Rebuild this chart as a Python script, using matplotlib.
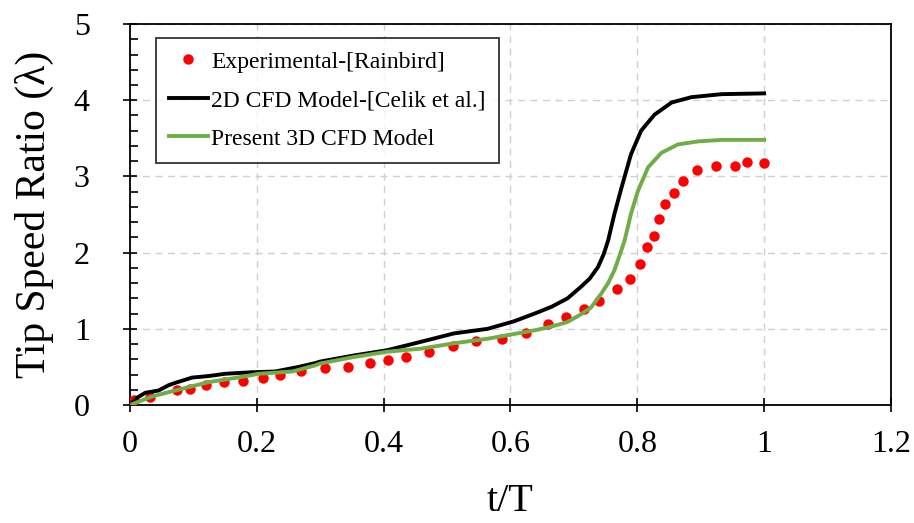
import matplotlib.pyplot as plt
from matplotlib.ticker import MultipleLocator

# Experimental-[Rainbird]
exp_t = [0.007, 0.031, 0.074, 0.094, 0.120, 0.149, 0.178, 0.210, 0.236, 0.270,
         0.308, 0.344, 0.378, 0.407, 0.436, 0.472, 0.510, 0.546, 0.586, 0.625,
         0.659, 0.687, 0.716, 0.740, 0.768, 0.788, 0.804, 0.815, 0.827, 0.834,
         0.843, 0.858, 0.872, 0.894, 0.924, 0.954, 0.973, 1.0]
exp_l = [0.06, 0.11, 0.20, 0.21, 0.26, 0.30, 0.31, 0.36, 0.40, 0.44,
         0.48, 0.50, 0.545, 0.59, 0.63, 0.70, 0.77, 0.84, 0.87, 0.945,
         1.06, 1.16, 1.26, 1.37, 1.52, 1.66, 1.85, 2.07, 2.22, 2.44,
         2.64, 2.78, 2.94, 3.09, 3.14, 3.14, 3.19, 3.18]

# 2D CFD Model-[Celik et al.]
cfd2_t = [0.0, 0.012, 0.024, 0.045, 0.061, 0.071, 0.098, 0.124, 0.150, 0.192,
          0.229, 0.266, 0.292, 0.300, 0.353, 0.406, 0.459, 0.511, 0.564, 0.606,
          0.638, 0.665, 0.690, 0.711, 0.725, 0.738, 0.747, 0.754, 0.764, 0.775,
          0.790, 0.806, 0.827, 0.854, 0.885, 0.933, 1.0]
cfd2_l = [0.0, 0.10, 0.16, 0.19, 0.26, 0.29, 0.36, 0.38, 0.41, 0.43,
          0.44, 0.50, 0.55, 0.57, 0.65, 0.72, 0.83, 0.94, 1.00, 1.10,
          1.20, 1.29, 1.40, 1.55, 1.66, 1.81, 1.98, 2.16, 2.51, 2.85,
          3.29, 3.60, 3.81, 3.97, 4.04, 4.08, 4.09]

# Present 3D CFD Model
cfd3_t = [0.0, 0.034, 0.071, 0.124, 0.177, 0.203, 0.256, 0.292, 0.300, 0.353,
          0.406, 0.459, 0.511, 0.564, 0.611, 0.638, 0.665, 0.690, 0.711, 0.727,
          0.743, 0.754, 0.764, 0.772, 0.780, 0.790, 0.801, 0.817, 0.838, 0.864,
          0.896, 0.933, 1.0]
cfd3_l = [0.0, 0.11, 0.19, 0.30, 0.37, 0.41, 0.44, 0.52, 0.545, 0.63,
          0.70, 0.74, 0.81, 0.87, 0.94, 0.98, 1.03, 1.09, 1.19, 1.28,
          1.46, 1.60, 1.77, 1.96, 2.16, 2.51, 2.81, 3.12, 3.31, 3.42,
          3.46, 3.48, 3.48]

plt.rcParams['font.family'] = ['Liberation Serif', 'DejaVu Serif']

fig = plt.figure(figsize=(9.14, 5.23), dpi=100)
ax = fig.add_axes([0.1422, 0.2256, 0.8326, 0.7284])

ax.plot(exp_t, exp_l, 'o', color='#ff0000', markersize=7.5, markeredgewidth=0,
        label='Experimental-[Rainbird]', zorder=3)
ax.plot(cfd2_t, cfd2_l, color='black', linewidth=2.8,
        label='2D CFD Model-[Celik et al.]', zorder=4)
ax.plot(cfd3_t, cfd3_l, color='#70ad47', linewidth=2.8,
        label='Present 3D CFD Model', zorder=5)

ax.set_xlim(0, 1.2)
ax.set_ylim(0, 5)
ax.yaxis.set_major_locator(MultipleLocator(1))
ax.yaxis.set_minor_locator(MultipleLocator(0.2))
ax.set_xticks([0, 0.2, 0.4, 0.6, 0.8, 1.0, 1.2])
ax.set_xticklabels(['0', '0.2', '0.4', '0.6', '0.8', '1', '1.2'])

ax.tick_params(axis='both', which='major', direction='inout', length=10,
               width=1.2, labelsize=23)
ax.tick_params(axis='x', which='major', pad=13)
ax.tick_params(axis='y', which='major', pad=24)
ax.tick_params(axis='y', which='minor', direction='in', length=6, width=1.2)
ax.tick_params(top=False, right=False, which='both')

for s in ax.spines.values():
    s.set_linewidth(1.3)

ax.grid(True, which='major', linestyle=(0, (5, 4)), color='#d0d0d0', linewidth=1)
ax.set_axisbelow(True)

ax.set_xlabel('t/T', fontsize=29, labelpad=17)
ax.set_ylabel('Tip Speed Ratio (λ)', fontsize=30, labelpad=14)

leg = ax.legend(loc='upper left', bbox_to_anchor=(0.034, 0.963), fontsize=17,
                frameon=True, fancybox=False, edgecolor='black',
                borderaxespad=0, handlelength=1.65, handletextpad=0.15,
                borderpad=0.55, labelspacing=0.72)
leg.get_frame().set_linewidth(1.3)

fig.savefig('out.png', dpi=100)
